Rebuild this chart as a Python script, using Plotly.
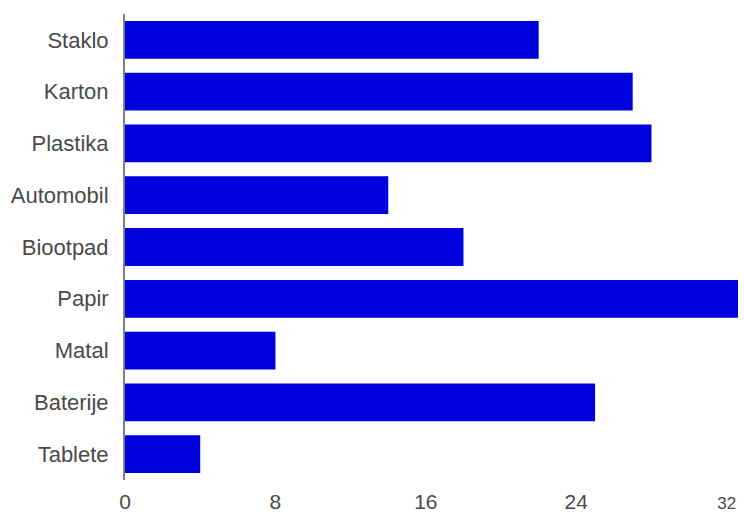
import plotly.graph_objects as go

categories = ["Staklo", "Karton", "Plastika", "Automobil", "Biootpad", "Papir", "Matal", "Baterije", "Tablete"]
values = [22, 27, 28, 14, 18, 32.6, 8, 25, 4]
tick_vals = [0, 8, 16, 24, 32]
tick_text = ["0", "8", "16", "24", "<span style='font-size:17px'>32</span>"]

fig = go.Figure(go.Bar(
    x=values, y=categories, orientation="h",
    marker=dict(color="#0000DD", line=dict(width=0)),
    width=0.73,
))
fig.update_layout(
    width=744, height=515,
    margin=dict(l=125, r=6, t=14, b=35),
    paper_bgcolor="white", plot_bgcolor="white",
    font=dict(family="Liberation Sans, Arial, sans-serif", size=21, color="#4a4a4a"),
    showlegend=False,
)
fig.update_xaxes(range=[0, 32.6], tickvals=tick_vals, ticktext=tick_text,
                 showgrid=False, zeroline=False, showline=False, automargin=False,
                 ticks="", ticklabelstandoff=7)
fig.update_yaxes(categoryorder="array", categoryarray=categories[::-1],
                 showgrid=False, zeroline=False, showline=True, automargin=False,
                 tickfont=dict(size=22),
                 linecolor="#808080", linewidth=2, ticks="", ticklabelstandoff=10)
fig.write_html("out.html", config={"displayModeBar": False},
               post_script="document.body.style.margin='0';document.body.style.overflow='hidden';")
